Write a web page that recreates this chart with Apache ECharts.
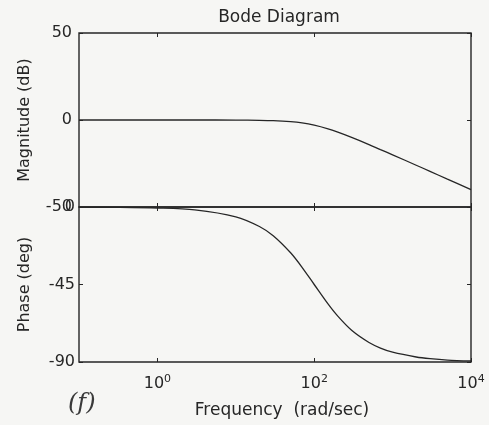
<!DOCTYPE html>
<html>
<head>
<meta charset="utf-8">
<script src="https://cdn.jsdelivr.net/npm/echarts@6/dist/echarts.min.js"></script>
<style>
  html, body { margin: 0; padding: 0; background: #f6f6f4; }
  #chart { width: 489px; height: 425px; }
</style>
</head>
<body>
<div id="chart"></div>
<script>
// frequency samples (rad/sec)
const freqs = [0.1, 0.3, 1, 3, 10, 20, 30, 50, 70, 100, 150, 200, 300, 500, 700, 1000, 2000, 3000, 5000, 10000]
const magnitudeDb = [0, 0, 0, 0, -0.04, -0.17, -0.37, -0.97, -1.7, -3.0, -5.1, -7.0, -10.0, -14.1, -17.0, -20.0, -26.0, -29.5, -34.0, -40.0]
const phaseDeg = [-0.1, -0.2, -0.6, -1.7, -5.7, -11.3, -16.7, -26.6, -35.0, -45.0, -56.3, -63.4, -71.6, -78.7, -81.9, -84.3, -87.1, -88.1, -88.9, -89.4]
const magTicks = [-50, 0, 50]
const phaseTicks = [-90, -45, 0]
const freqLabelValues = [1, 100, 10000]

const ink = '#262626'
const font = 'DejaVu Sans'

const chart = echarts.init(document.getElementById('chart'))

function pairs(ys) {
  return freqs.map((f, i) => [f, ys[i]])
}

const xBase = {
  type: 'log',
  logBase: 10,
  min: 0.1,
  max: 10000,
  axisLine: { show: false, onZero: false },
  splitLine: { show: false },
  axisTick: { inside: true, length: 4, customValues: freqLabelValues, lineStyle: { color: ink } },
  axisLabel: { show: false }
}

const yBase = {
  type: 'value',
  axisLine: { show: false, onZero: false },
  splitLine: { show: false },
  axisTick: { inside: true, length: 4, lineStyle: { color: ink } },
  axisLabel: { color: ink, fontFamily: font, fontSize: 16, margin: 7, showMinLabel: true, showMaxLabel: true, hideOverlap: false },
  nameLocation: 'middle',
  nameGap: 46,
  nameTextStyle: { color: ink, fontFamily: font, fontSize: 16 }
}

const option = {
  backgroundColor: '#f6f6f4',
  animation: false,
  title: {
    text: 'Bode Diagram',
    left: 274,
    top: 4,
    textAlign: 'center',
    textStyle: { color: ink, fontFamily: font, fontSize: 17, fontWeight: 'normal' }
  },
  grid: [
    { left: 79, right: 18, top: 33, height: 174, show: true, borderColor: ink, borderWidth: 1.4, backgroundColor: 'transparent' },
    { left: 79, right: 18, top: 207, height: 155, show: true, borderColor: ink, borderWidth: 1.4, backgroundColor: 'transparent' }
  ],
  xAxis: [
    Object.assign({}, xBase, { gridIndex: 0, position: 'bottom' }),
    Object.assign({}, xBase, { gridIndex: 0, position: 'top' }),
    Object.assign({}, xBase, {
      gridIndex: 1,
      position: 'bottom',
      axisLabel: {
        show: true,
        customValues: freqLabelValues,
        margin: 12,
        color: ink,
        fontFamily: font,
        fontSize: 16,
        showMinLabel: true,
        showMaxLabel: true,
        formatter: v => '10{sup|' + Math.round(Math.log10(v)) + '}',
        rich: { sup: { fontSize: 11, fontFamily: font, color: ink, verticalAlign: 'top', padding: [0, 0, 9, 0] } }
      },
      name: 'Frequency  (rad/sec)',
      nameLocation: 'middle',
      nameGap: 40,
      nameTextStyle: { color: ink, fontFamily: font, fontSize: 17, padding: [0, 0, 0, 14] }
    }),
    Object.assign({}, xBase, { gridIndex: 1, position: 'top' })
  ],
  yAxis: [
    Object.assign({}, yBase, { gridIndex: 0, min: magTicks[0], max: magTicks[2], interval: 50, name: 'Magnitude (dB)' }),
    Object.assign({}, yBase, { gridIndex: 0, min: magTicks[0], max: magTicks[2], interval: 50, position: 'right', axisLabel: { show: false }, name: '' }),
    Object.assign({}, yBase, { gridIndex: 1, min: phaseTicks[0], max: phaseTicks[2], interval: 45, name: 'Phase (deg)',
      axisLabel: Object.assign({}, yBase.axisLabel, { margin: 4, padding: [3, 0, 0, 0] }) }),
    Object.assign({}, yBase, { gridIndex: 1, min: phaseTicks[0], max: phaseTicks[2], interval: 45, position: 'right', axisLabel: { show: false }, name: '' })
  ],
  series: [
    {
      name: 'Magnitude',
      type: 'line',
      xAxisIndex: 0,
      yAxisIndex: 0,
      data: pairs(magnitudeDb),
      smooth: 0.3,
      showSymbol: false,
      lineStyle: { color: ink, width: 1.3 }
    },
    {
      name: 'Phase',
      type: 'line',
      xAxisIndex: 2,
      yAxisIndex: 2,
      data: pairs(phaseDeg),
      smooth: 0.3,
      showSymbol: false,
      lineStyle: { color: ink, width: 1.3 }
    }
  ],
  graphic: [
    {
      type: 'text',
      left: 68,
      top: 392,
      style: { text: '(f)', fill: '#3a3a3a', font: 'italic 24px "DejaVu Serif"' }
    }
  ]
}

chart.setOption(option)
</script>
</body>
</html>
